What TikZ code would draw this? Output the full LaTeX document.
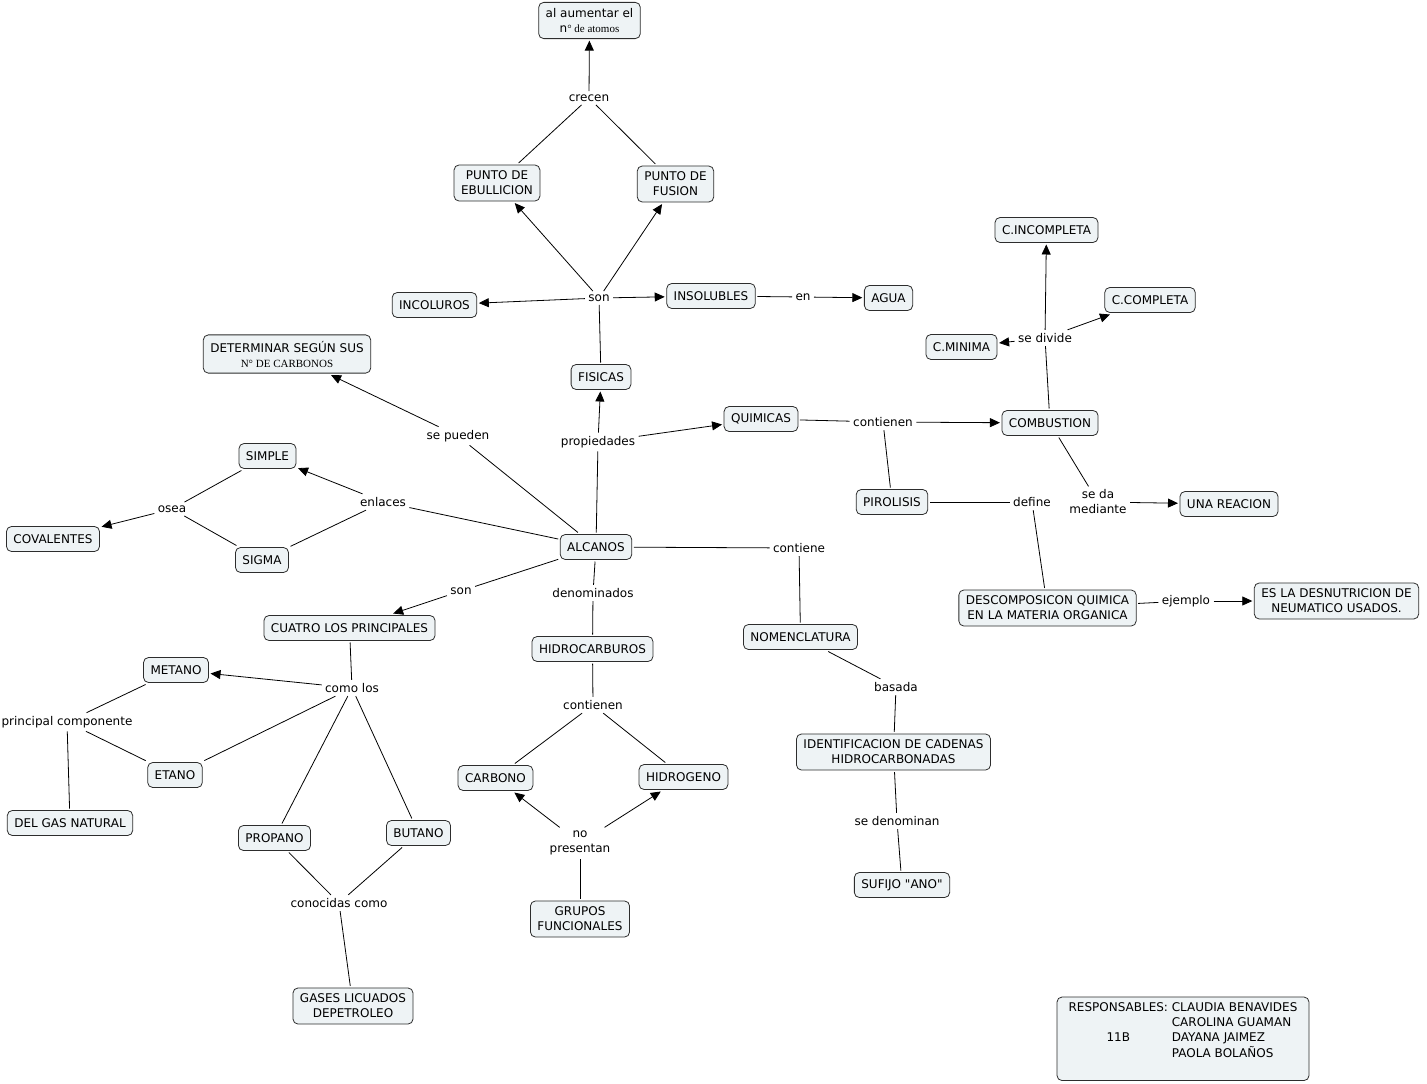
\documentclass[tikz,border=0pt]{standalone}
\usepackage{fontspec}
\setmainfont{DejaVu Sans}[Ligatures=TeXOff]
\newfontfamily\timesfont{Liberation Serif}
\usetikzlibrary{arrows.meta}
\definecolor{conceptfill}{RGB}{238,243,245}
\definecolor{conceptline}{RGB}{45,45,45}
\tikzset{
    concept/.style = {
        draw           = conceptline,
        fill           = conceptfill,
        rounded corners = 5pt,
        align          = center,
        inner xsep     = 7pt,
        inner ysep     = 6pt,
        minimum height = 25pt,
        outer sep      = 2pt,
        line width     = 0.8pt,
    },
    phrase/.style = {align = center, inner sep = 1.5pt, outer sep = 2pt},
    link/.style   = {line width = 0.8pt},
    linkto/.style = {line width = 0.8pt, -{Triangle[length=10pt, width=9pt]}},
}

\begin{document}
\begin{tikzpicture}[x=1pt, y=-1pt, font=\fontsize{12}{15}\selectfont]
        \useasboundingbox (0,0) rectangle (1427,1084);

        % concepts
        \node (aumentar) [concept] at (589.5,20.5) {al aumentar el\\ n{\timesfont\fontsize{11}{15}\selectfont° de atomos}};
        \node (ebullicion) [concept] at (497,183) {PUNTO DE\\ EBULLICION};
        \node (fusion) [concept] at (675.5,184) {PUNTO DE\\ FUSION};
        \node (incoluros) [concept] at (434.5,305) {INCOLUROS};
        \node (insolubles) [concept] at (711,296) {INSOLUBLES};
        \node (agua) [concept] at (888.5,298) {AGUA};
        \node (fisicas) [concept] at (601,377) {FISICAS};
        \node (determinar) [concept] at (287,354) {DETERMINAR SEGÚN SUS\\ {\timesfont\fontsize{11}{15}\selectfont N° DE CARBONOS}};
        \node (quimicas) [concept] at (761,419) {QUIMICAS};
        \node (combustion) [concept] at (1050,423) {COMBUSTION};
        \node (incompleta) [concept] at (1046.5,230) {C.INCOMPLETA};
        \node (completa) [concept] at (1150,300) {C.COMPLETA};
        \node (minima) [concept] at (961.5,347) {C.MINIMA};
        \node (pirolisis) [concept] at (892,502) {PIROLISIS};
        \node (reacion) [concept] at (1229,504) {UNA REACION};
        \node (descomp) [concept] at (1047.5,608) {DESCOMPOSICON QUIMICA\\ EN LA MATERIA ORGANICA};
        \node (desnutricion) [concept] at (1336.5,601) {ES LA DESNUTRICION DE\\ NEUMATICO USADOS.};
        \node (simple) [concept] at (267.5,456) {SIMPLE};
        \node (covalentes) [concept] at (53,539) {COVALENTES};
        \node (sigma) [concept] at (262,560) {SIGMA};
        \node (alcanos) [concept] at (596,547) {ALCANOS};
        \node (nomenclatura) [concept] at (800.5,637) {NOMENCLATURA};
        \node (cadenas) [concept] at (893.5,752) {IDENTIFICACION DE CADENAS\\ HIDROCARBONADAS};
        \node (sufijo) [concept] at (902,885) {SUFIJO "ANO"};
        \node (cuatro) [concept] at (349.5,628) {CUATRO LOS PRINCIPALES};
        \node (hidrocarburos) [concept] at (592.5,649) {HIDROCARBUROS};
        \node (carbono) [concept] at (495.5,778) {CARBONO};
        \node (hidrogeno) [concept] at (683.5,777) {HIDROGENO};
        \node (grupos) [concept] at (580,919) {GRUPOS\\ FUNCIONALES};
        \node (metano) [concept] at (176,670) {METANO};
        \node (etano) [concept] at (175,775) {ETANO};
        \node (gasnatural) [concept] at (70,823) {DEL GAS NATURAL};
        \node (propano) [concept] at (274.5,838) {PROPANO};
        \node (butano) [concept] at (418.5,833) {BUTANO};
        \node (gases) [concept] at (353,1006) {GASES LICUADOS\\ DEPETROLEO};
        \node (responsables) [concept, anchor=north west, align=left, inner xsep=5pt, inner ysep=4pt, minimum width=252pt] at (1055,995) {%
            \begin{tabular}{@{}c@{\ }l@{}}
                RESPONSABLES: & CLAUDIA BENAVIDES\\
                              & CAROLINA GUAMAN\\
                11B           & DAYANA JAIMEZ\\
                              & PAOLA BOLAÑOS\\
                              & \\
            \end{tabular}};

        % linking phrases
        \node (crecen) [phrase] at (589,98) {crecen};
        \node (sonF) [phrase] at (599,298) {son};
        \node (en) [phrase] at (803,297) {en};
        \node (sepueden) [phrase] at (458,436) {se pueden};
        \node (propiedades) [phrase] at (598,442) {propiedades};
        \node (contienenQ) [phrase] at (883,422) {contienen};
        \node (sedivide) [phrase] at (1045,338) {se divide};
        \node (define) [phrase] at (1032,502) {define};
        \node (seda) [phrase] at (1098,502) {se da\\ mediante};
        \node (ejemplo) [phrase] at (1186,601) {ejemplo};
        \node (enlaces) [phrase] at (383,502) {enlaces};
        \node (osea) [phrase] at (172,509) {osea};
        \node (contiene) [phrase] at (799,548) {contiene};
        \node (basada) [phrase] at (896,687) {basada};
        \node (sedenominan) [phrase] at (897,821) {se denominan};
        \node (sonC) [phrase] at (461,591) {son};
        \node (denominados) [phrase] at (593,593) {denominados};
        \node (contienenH) [phrase] at (593,705) {contienen};
        \node (nopresentan) [phrase] at (580,843) {no\\ presentan};
        \node (comolos) [phrase] at (352,688) {como los};
        \node (principal) [phrase] at (67,722) {principal componente};
        \node (conocidas) [phrase] at (339,903) {conocidas como};

        % connectors
        \draw [link] (ebullicion) -- (crecen);
        \draw [link] (fusion) -- (crecen);
        \draw [linkto] (crecen) -- (aumentar);

        \draw [link] (fisicas) -- (sonF);
        \draw [linkto] (sonF) -- (ebullicion);
        \draw [linkto] (sonF) -- (fusion);
        \draw [linkto] (sonF) -- (incoluros);
        \draw [linkto] (sonF) -- (insolubles);
        \draw [link] (insolubles) -- (en);
        \draw [linkto] (en) -- (agua);

        \draw [link] (alcanos) -- (propiedades);
        \draw [linkto] (propiedades) -- (fisicas);
        \draw [linkto] (propiedades) -- (quimicas);
        \draw [link] (alcanos) -- (sepueden);
        \draw [linkto] (sepueden) -- (determinar);

        \draw [link] (quimicas) -- (contienenQ);
        \draw [linkto] (contienenQ) -- (combustion);
        \draw [link] (contienenQ) -- (pirolisis);
        \draw [link] (combustion) -- (sedivide);
        \draw [linkto] (sedivide) -- (incompleta);
        \draw [linkto] (sedivide) -- (completa);
        \draw [linkto] (sedivide) -- (minima);
        \draw [link] (combustion) -- (seda);
        \draw [linkto] (seda) -- (reacion);
        \draw [link] (pirolisis) -- (define);
        \draw [link] (define) -- (descomp);
        \draw [link] (descomp) -- (ejemplo);
        \draw [linkto] (ejemplo) -- (desnutricion);

        \draw [link] (alcanos) -- (enlaces);
        \draw [linkto] (enlaces) -- (simple);
        \draw [link] (enlaces) -- (sigma);
        \draw [link] (simple) -- (osea);
        \draw [link] (sigma) -- (osea);
        \draw [linkto] (osea) -- (covalentes);

        \draw [link] (alcanos) -- (contiene);
        \draw [link] (contiene) -- (nomenclatura);
        \draw [link] (nomenclatura) -- (basada);
        \draw [link] (basada) -- (cadenas);
        \draw [link] (cadenas) -- (sedenominan);
        \draw [link] (sedenominan) -- (sufijo);

        \draw [link] (alcanos) -- (sonC);
        \draw [linkto] (sonC) -- (cuatro);
        \draw [link] (alcanos) -- (denominados);
        \draw [link] (denominados) -- (hidrocarburos);
        \draw [link] (hidrocarburos) -- (contienenH);
        \draw [link] (contienenH) -- (carbono);
        \draw [link] (contienenH) -- (hidrogeno);
        \draw [link] (grupos) -- (nopresentan);
        \draw [linkto] (nopresentan) -- (carbono);
        \draw [linkto] (nopresentan) -- (hidrogeno);

        \draw [link] (cuatro) -- (comolos);
        \draw [linkto] (comolos) -- (metano);
        \draw [link] (comolos) -- (etano);
        \draw [link] (comolos) -- (propano);
        \draw [link] (comolos) -- (butano);
        \draw [link] (metano) -- (principal);
        \draw [link] (etano) -- (principal);
        \draw [link] (principal) -- (gasnatural);
        \draw [link] (propano) -- (conocidas);
        \draw [link] (butano) -- (conocidas);
        \draw [link] (conocidas) -- (gases);

    \end{tikzpicture}
\end{document}
